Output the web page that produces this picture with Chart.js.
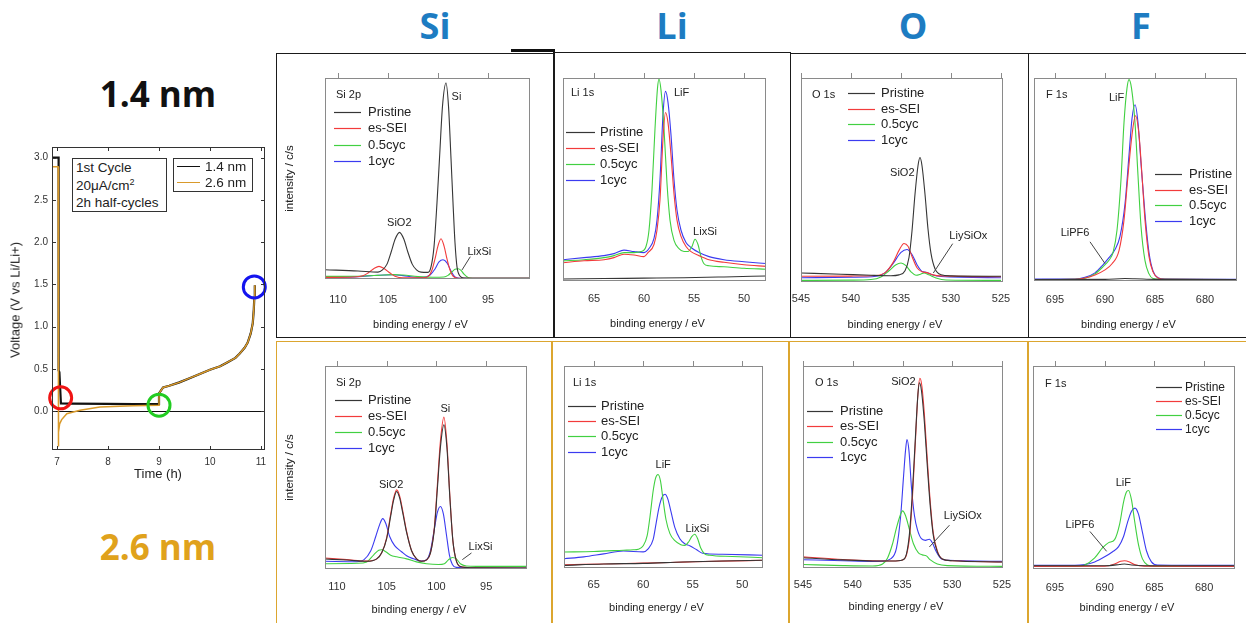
<!DOCTYPE html>
<html>
<head>
<meta charset="utf-8">
<script src="https://cdn.jsdelivr.net/npm/chart.js@4.4.0/dist/chart.umd.min.js"></script>
<style>
    body { margin: 0; width: 1246px; height: 623px; overflow: hidden; position: relative; background: #fff;
           font-family: "Liberation Sans", Arial, sans-serif; color: #222; }
    canvas { position: absolute; left: 0; top: 0; }
    .frame { position: absolute; box-sizing: border-box; }
    .top-frame { border: 1.5px solid #1a1a1a; }
    .bot-frame { border: 1.5px solid #dca62f; }
    .big { position: absolute; font-family: "Open Sans", sans-serif; font-weight: 700; text-align: center; white-space: nowrap; }
    .head { width: 100px; font-size: 36px; line-height: 36px; color: #1d7cc2; top: 8px; }
    .size { left: 58px; width: 200px; font-size: 35px; line-height: 35px; }
    .abs { position: absolute; white-space: nowrap; }
    .vbox { position: absolute; box-sizing: border-box; border: 1px solid #333; background: #fff; }
    .swatch { position: absolute; height: 0; border-top: 1.6px solid; }
</style>
</head>
<body>

<div class="frame top-frame" style="left:276px;top:53px;width:279px;height:285px"></div>
<div class="frame top-frame" style="left:553px;top:52px;width:238px;height:286px"></div>
<div class="frame top-frame" style="left:790px;top:53px;width:239px;height:285px"></div>
<div class="frame top-frame" style="left:1028px;top:53px;width:230px;height:285px"></div>
<div class="abs" style="left:511px;top:49px;width:44px;height:3px;background:#111"></div>
<div class="frame bot-frame" style="left:276px;top:341px;width:276px;height:300px"></div>
<div class="frame bot-frame" style="left:552px;top:341px;width:237px;height:300px"></div>
<div class="frame bot-frame" style="left:789px;top:341px;width:239px;height:300px"></div>
<div class="frame bot-frame" style="left:1028px;top:341px;width:230px;height:300px"></div>

<div class="big head" style="left:385px">Si</div>
<div class="big head" style="left:622px">Li</div>
<div class="big head" style="left:863px">O</div>
<div class="big head" style="left:1091px">F</div>
<div class="big size" style="top:76px;color:#111">1.4 nm</div>
<div class="big size" style="top:529px;color:#e0a21c">2.6 nm</div>

<canvas id="volt" width="1246" height="623"></canvas>
<canvas id="si14" width="1246" height="623"></canvas>
<canvas id="li14" width="1246" height="623"></canvas>
<canvas id="o14" width="1246" height="623"></canvas>
<canvas id="f14" width="1246" height="623"></canvas>
<canvas id="si26" width="1246" height="623"></canvas>
<canvas id="li26" width="1246" height="623"></canvas>
<canvas id="o26" width="1246" height="623"></canvas>
<canvas id="f26" width="1246" height="623"></canvas>

<!-- voltage profile boxes and axis titles -->
<div class="vbox" style="left:72px;top:158px;width:95px;height:54px;font-size:13.5px;line-height:17.5px;padding-left:3px">
    1st Cycle<br>20μA/cm<sup style="font-size:9px;line-height:0">2</sup><br>2h half-cycles
</div>
<div class="vbox" style="left:173px;top:158px;width:80px;height:34px;font-size:13.5px">
    <div class="swatch" style="left:3px;top:7px;width:23px;border-color:#111"></div>
    <div class="abs" style="left:31px;top:0px;line-height:16px">1.4 nm</div>
    <div class="swatch" style="left:3px;top:23px;width:23px;border-color:#d99a2b"></div>
    <div class="abs" style="left:31px;top:15.5px;line-height:16px">2.6 nm</div>
</div>
<div class="abs" style="left:15px;top:300px;font-size:13px;transform:translate(-50%,-50%) rotate(-90deg)">Voltage (V vs Li/Li+)</div>
<div class="abs" style="left:158px;top:473px;font-size:13px;transform:translate(-50%,-50%)">Time (h)</div>

<script>
    const W = 1246, H = 623;
    const AXIS_H = 40;   // room kept under each box for the tick labels

    // --- voltage profile, first cycle ---
    const timeBlack = [6.9, 7.03, 7.03, 7.045, 7.075, 7.3, 8.0, 8.5, 9.0, 9.0, 9.08, 9.2, 9.4, 9.6, 9.8, 10.0, 10.2, 10.32, 10.5, 10.58, 10.68, 10.74, 10.8, 10.84, 10.86, 10.87, 10.88];
    const voltBlack = [3.0, 3.0, 0.48, 0.46, 0.09, 0.088, 0.085, 0.083, 0.082, 0.21, 0.28, 0.30, 0.34, 0.39, 0.44, 0.49, 0.53, 0.57, 0.63, 0.68, 0.75, 0.81, 0.92, 1.04, 1.2, 1.34, 1.49];
    const timeOrange = [6.9, 7.02, 7.02, 7.035, 7.05, 7.09, 7.19, 7.45, 7.84, 8.5, 9.0, 9.0, 9.08, 9.2, 9.4, 9.6, 9.8, 10.0, 10.2, 10.32, 10.5, 10.58, 10.68, 10.74, 10.8, 10.84, 10.86, 10.87, 10.88];
    const voltOrange = [2.89, 2.89, -0.42, -0.25, -0.15, -0.10, -0.03, 0.01, 0.05, 0.063, 0.07, 0.21, 0.28, 0.30, 0.34, 0.39, 0.44, 0.49, 0.53, 0.57, 0.63, 0.68, 0.75, 0.81, 0.92, 1.04, 1.2, 1.34, 1.49];
    const markTime = [7.07, 9.0, 10.87];
    const markVolt = [0.157, 0.07, 1.47];
    const markColors = ['#f01414', '#22cc22', '#1414ee'];
    const timeTicks = [7, 8, 9, 10, 11];
    const voltTicks = [0, 0.5, 1.0, 1.5, 2.0, 2.5, 3.0];

    // --- XPS spectra (intensity in % of plot height) ---
    const SERIES = ['Pristine', 'es-SEI', '0.5cyc', '1cyc'];
    const LINE_COLORS = ['#363636', '#f23b3b', '#41d041', '#3b3bf0'];

    // Si 2p, 1.4 nm
    const si14PristineE = [111.3, 108, 106, 105.55, 105.1, 104.7, 104.27, 103.85, 103.43, 103.0, 102.58, 102.15, 101.7, 101.0, 100.7, 100.4, 100.1, 99.85, 99.55, 99.2, 98.95, 98.7, 98.5, 98.3, 98.1, 97.8, 97.4, 96, 90.8];
    const si14PristineI = [4.6, 4.0, 3.4, 4.5, 7.4, 13.2, 20.0, 23.2, 20.0, 13.2, 7.4, 4.5, 3.4, 3.3, 6, 16, 38, 60, 86, 97.5, 86, 60, 38, 18, 6, 1.5, 0.5, 0.4, 0.3];
    const si14SeiE = [111.3, 108.5, 107.5, 107.0, 106.4, 105.9, 105.4, 104.8, 104.3, 103.5, 101.5, 101.0, 100.6, 100.3, 100.0, 99.7, 99.4, 99.1, 98.8, 98.5, 98.0, 90.8];
    const si14SeiI = [0.8, 1.0, 1.6, 3.0, 5.2, 6.3, 5.2, 3.0, 1.4, 0.6, 0.6, 1.2, 4.5, 10, 16.5, 20, 16.5, 10, 4.5, 1.4, 0.4, 0.3];
    const si14HalfE = [111.3, 108, 106, 104.5, 103.5, 102, 100.5, 99.4, 99.0, 98.6, 98.3, 98.0, 97.7, 97.4, 97.0, 96.5, 90.8];
    const si14HalfI = [1.3, 1.4, 1.8, 2.2, 2.0, 1.2, 0.9, 1.0, 1.8, 3.6, 4.8, 5.1, 4.3, 2.4, 0.8, 0.4, 0.3];
    const si14OneE = [111.3, 108, 106, 104.5, 103.5, 102.5, 101.5, 100.8, 100.3, 99.9, 99.5, 99.1, 98.7, 98.3, 97.8, 90.8];
    const si14OneI = [0.8, 1.2, 1.9, 2.1, 1.7, 1.0, 0.8, 2.0, 5.0, 8.5, 9.6, 8.0, 4.0, 1.0, 0.4, 0.4];

    // Li 1s, 1.4 nm
    const li14PristineE = [68.1, 64, 60, 56, 52, 47.8];
    const li14PristineI = [1.0, 1.2, 1.4, 1.6, 2.0, 2.5];
    const li14SeiE = [68.1, 66, 64, 63, 62, 61, 60, 59.6, 59.0, 58.7, 58.4, 58.1, 57.85, 57.6, 57.3, 57.0, 56.7, 56.3, 55.8, 55.3, 54.5, 53.5, 52, 50, 47.8];
    const li14SeiI = [9.0, 10.0, 10.5, 11.5, 13.2, 12.8, 12.0, 14, 18, 25, 40, 70, 83, 78, 62, 43, 30, 22, 17, 14.5, 12.5, 10.5, 9.2, 8.0, 7.2];
    const li14HalfE = [68.1, 66, 64, 63, 62, 61, 60.3, 59.8, 59.5, 59.2, 58.9, 58.65, 58.5, 58.3, 58.0, 57.7, 57.4, 57.0, 56.5, 56.0, 55.6, 55.2, 54.9, 54.6, 54.3, 54.0, 53.5, 52, 50, 47.8];
    const li14HalfI = [9.9, 10.5, 11.5, 12.5, 14.0, 14.0, 14.5, 17, 25, 45, 75, 95, 99.5, 94, 75, 48, 30, 20, 16, 14.5, 14.5, 17, 20.6, 18, 12, 8.5, 7.5, 7.0, 6.3, 5.8];
    const li14OneE = [68.1, 66, 64, 63, 62, 61, 60, 59.5, 59.0, 58.7, 58.4, 58.1, 57.85, 57.6, 57.3, 57.0, 56.7, 56.3, 55.8, 55.3, 54.5, 53.5, 52, 50, 47.8];
    const li14OneI = [10.5, 11.5, 12.5, 13.5, 15.2, 14.5, 14.0, 16, 21, 30, 50, 82, 93.4, 88, 72, 50, 35, 25, 19, 16.5, 14, 12, 10.5, 9.5, 8.6];

    // O 1s, 1.4 nm
    const o14PristineE = [545, 541, 538, 536, 535.2, 534.6, 534.2, 533.9, 533.6, 533.3, 533.1, 532.9, 532.6, 532.3, 532.0, 531.6, 531.0, 530, 525];
    const o14PristineI = [4.4, 3.8, 3.3, 3.1, 3.5, 5.5, 12, 25, 43, 57, 61, 57, 43, 26, 14, 6.5, 3.6, 3.0, 2.8];
    const o14SeiE = [545, 540, 537.5, 536.5, 535.8, 535.2, 534.7, 534.3, 533.9, 533.4, 532.9, 532.4, 531.8, 531, 525];
    const o14SeiI = [2.8, 2.9, 3.2, 5.0, 9.5, 15.5, 18.9, 17.5, 12.5, 7.0, 5.0, 4.6, 3.5, 3.0, 2.6];
    const o14HalfE = [545, 540, 538, 537, 536.2, 535.5, 535.0, 534.5, 534.0, 533.5, 533.0, 532.7, 532.2, 531.5, 530.5, 525];
    const o14HalfI = [0.8, 0.9, 1.2, 2.5, 5.5, 8.5, 9.3, 8.0, 5.0, 3.3, 3.9, 4.4, 3.5, 2.0, 1.0, 0.8];
    const o14OneE = [545, 540, 537.5, 536.6, 535.8, 535.0, 534.4, 533.9, 533.4, 532.9, 532.5, 531.9, 531, 525];
    const o14OneI = [2.1, 2.3, 2.8, 4.5, 9.0, 14.5, 15.9, 13.5, 8.5, 5.2, 4.8, 3.6, 2.7, 2.1];

    // F 1s, 1.4 nm
    const f14PristineE = [697.1, 690, 688, 687, 685, 676.8];
    const f14PristineI = [0.7, 0.8, 1.2, 1.1, 0.8, 0.7];
    const f14SeiE = [697.1, 693, 692, 691, 690, 689.3, 688.6, 688.1, 687.7, 687.3, 686.95, 686.6, 686.3, 686.0, 685.6, 685.2, 684.7, 684, 676.8];
    const f14SeiI = [0.7, 0.8, 1.5, 3.0, 5.5, 8.5, 15, 30, 52, 72, 81.4, 72, 52, 30, 12, 4.5, 1.5, 0.8, 0.7];
    const f14HalfE = [697.1, 693, 692, 691, 690.2, 689.6, 689.2, 688.8, 688.4, 688.1, 687.8, 687.6, 687.35, 687.0, 686.7, 686.4, 686.0, 685.6, 685.2, 684.5, 676.8];
    const f14HalfI = [0.7, 0.8, 1.4, 3.5, 7.0, 10.2, 14, 25, 50, 78, 95, 99.2, 95, 78, 52, 27, 10, 3.5, 1.2, 0.8, 0.7];
    const f14OneE = [697.1, 693, 692, 691, 690.2, 689.6, 689.0, 688.5, 688.0, 687.6, 687.3, 687.0, 686.7, 686.4, 686.0, 685.6, 685.2, 684.7, 684, 676.8];
    const f14OneI = [0.9, 1.0, 1.8, 4.0, 8.0, 11.5, 15.5, 22, 38, 62, 80, 86.8, 78, 58, 33, 14, 5, 1.6, 0.9, 0.8];

    // Si 2p, 2.6 nm
    const si26PristineE = [111.2, 109, 107, 106, 105.5, 105.0, 104.6, 104.3, 104.0, 103.7, 103.4, 103.0, 102.5, 102.0, 101.5, 101.0, 100.6, 100.2, 99.9, 99.6, 99.25, 98.95, 98.65, 98.35, 98.0, 97.6, 96.5, 90.9];
    const si26PristineI = [4.9, 4.4, 3.8, 5.0, 8, 15, 26, 34, 38.2, 35, 28, 18, 9, 5, 3.8, 4.5, 8, 20, 40, 60, 71, 60, 35, 14, 4, 1.2, 0.6, 0.5];
    const si26SeiE = si26PristineE;
    const si26SeiI = [5.4, 4.6, 3.9, 5.0, 8, 15.5, 27, 35, 39, 36, 29, 18.5, 9, 5, 3.8, 4.5, 8, 21, 42, 63, 74.8, 62, 36, 14, 4, 1.2, 0.6, 0.5];
    const si26HalfE = [111.2, 108, 107, 106.3, 105.8, 105.5, 105.1, 104.6, 104, 103, 102, 101, 99.8, 99.2, 98.8, 98.4, 98.0, 97.6, 97.0, 96, 90.9];
    const si26HalfI = [2.6, 2.8, 3.5, 7, 9.2, 9.5, 8.5, 6.8, 6.0, 5.0, 3.5, 2.6, 2.2, 2.6, 4.5, 5.7, 5.0, 2.6, 1.5, 1.3, 1.3];
    const si26OneE = [111.2, 108, 107.3, 106.6, 106.1, 105.7, 105.4, 105.1, 104.7, 104.2, 103.5, 103, 102.3, 101.6, 101.0, 100.6, 100.2, 99.9, 99.6, 99.3, 99.0, 98.7, 98.4, 98.0, 90.9];
    const si26OneI = [3.8, 3.6, 4.5, 9, 16, 22, 24.8, 22.5, 16, 11.5, 8.5, 6.5, 5, 3.9, 4.5, 9, 20, 28, 30.8, 27, 17, 7, 2.2, 0.8, 0.5];

    // Li 1s, 2.6 nm
    const li26PristineE = [68, 64, 60, 56, 52, 47.9];
    const li26PristineI = [1.3, 2.0, 2.3, 3.0, 3.5, 3.8];
    const li26SeiE = [68, 64, 60, 56, 52, 47.9];
    const li26SeiI = [1.6, 2.0, 2.4, 2.9, 3.4, 3.8];
    const li26HalfE = [68, 65, 62, 61, 60.5, 60.0, 59.6, 59.3, 59.0, 58.75, 58.5, 58.25, 58.0, 57.7, 57.3, 56.8, 56.2, 55.8, 55.4, 55.1, 54.8, 54.5, 54.2, 53.8, 53.3, 51, 47.9];
    const li26HalfI = [7.9, 8.2, 8.8, 9.0, 9.3, 11, 16, 26, 38, 44.5, 46.3, 43, 34, 24, 17, 13.5, 11.5, 11.2, 13, 15.5, 16.7, 14.5, 10, 7, 6.3, 5.7, 5.1];
    const li26OneE = [68, 66, 64, 62, 60, 59.5, 59.0, 58.7, 58.4, 58.1, 57.8, 57.5, 57.2, 56.8, 56.3, 55.8, 55.3, 54.6, 54, 52, 47.9];
    const li26OneI = [4.6, 5.5, 7, 8.4, 8.0, 9.5, 14, 22, 30, 35, 36.5, 34, 28, 20, 14.5, 12, 11, 9, 7.3, 6.8, 6.3];

    // O 1s, 2.6 nm
    const o26PristineE = [545, 541, 538, 536, 535, 534.6, 534.3, 534.0, 533.7, 533.45, 533.3, 533.1, 532.8, 532.5, 532.2, 531.9, 531.5, 531, 530, 525];
    const o26PristineI = [5.1, 4.0, 3.5, 3.5, 4.0, 7, 17, 38, 65, 86, 91.7, 88, 72, 50, 30, 16, 8, 4.5, 3.6, 3.0];
    const o26SeiE = [545, 541, 538, 536, 535, 534.6, 534.3, 534.0, 533.7, 533.45, 533.25, 533.05, 532.8, 532.5, 532.2, 531.9, 531.5, 531, 530, 525];
    const o26SeiI = [5.5, 4.2, 3.6, 3.5, 4.0, 6.5, 15, 35, 63, 86, 93.9, 90, 76, 53, 32, 17, 8.5, 4.5, 3.6, 3.0];
    const o26HalfE = [545, 541, 538, 537, 536.5, 536.0, 535.6, 535.2, 535.0, 534.7, 534.3, 533.9, 533.4, 533.0, 532.6, 532.2, 531.5, 530.5, 525];
    const o26HalfI = [1.7, 1.2, 1.0, 2.0, 5, 12, 20, 26.5, 28.3, 26, 19, 12, 7.5, 6.5, 6.0, 4.0, 2.0, 1.2, 0.8];
    const o26OneE = [545, 541, 538, 537, 536.2, 535.6, 535.2, 534.9, 534.7, 534.55, 534.35, 534.1, 533.8, 533.5, 533.1, 532.7, 532.3, 532.0, 531.6, 531.1, 530.5, 525];
    const o26OneI = [4.1, 3.6, 3.3, 3.4, 4.5, 10, 25, 45, 58, 63.6, 58, 40, 26, 19, 14.5, 13.7, 14.2, 12.5, 8, 4.5, 3.8, 3.3];

    // F 1s, 2.6 nm
    const f26PristineE = [697.2, 690, 688.5, 688, 687.3, 686, 676.9];
    const f26PristineI = [1.6, 1.6, 2.2, 2.5, 2.0, 1.6, 1.6];
    const f26SeiE = [697.2, 690, 689, 688.4, 688, 687.5, 687, 686, 676.9];
    const f26SeiI = [1.3, 1.4, 2.5, 3.8, 4.1, 3.5, 2.2, 1.4, 1.3];
    const f26HalfE = [697.2, 693, 692, 691, 690.2, 689.6, 689.0, 688.5, 688.1, 687.8, 687.6, 687.3, 687.0, 686.6, 686.2, 685.7, 685, 676.9];
    const f26HalfI = [1.3, 1.3, 2.0, 5.5, 10.5, 13, 14.5, 22, 33, 38, 38.7, 34, 24, 12, 5, 2, 1.3, 1.3];
    const f26OneE = [697.2, 693, 692, 691, 690, 689.2, 688.6, 688.1, 687.7, 687.3, 686.95, 686.6, 686.2, 685.8, 685.3, 684.7, 676.9];
    const f26OneI = [1.8, 1.8, 2.2, 3.5, 6.0, 8.5, 11, 16, 23, 28.5, 30, 27, 18, 9, 3.5, 2.0, 1.8];

    const siTicks = [110, 105, 100, 95];
    const liTicks = [65, 60, 55, 50];
    const oTicks = [545, 540, 535, 530, 525];
    const fTicks = [695, 690, 685, 680];

    Chart.defaults.font.family = '"Liberation Sans", Arial, sans-serif';
    const FONT = s => s + 'px "Liberation Sans", Arial, sans-serif';

    // frame, tick marks, inset legend, peak labels, leader lines, axis titles
    const panelDeco = {
        id: 'panelDeco',
        afterDraw(chart, args, o) {
            const { ctx, chartArea: a } = chart;
            const sx = chart.scales.x, sy = chart.scales.y;
            ctx.save();
            ctx.lineWidth = 1;
            ctx.strokeStyle = o.frame;
            ctx.strokeRect(Math.round(a.left) + 0.5, Math.round(a.top) + 0.5, Math.round(a.width) - 1, Math.round(a.height) - 1);

            ctx.beginPath();
            if (o.topTicks) {
                sx.ticks.forEach(t => {
                    const px = Math.round(sx.getPixelForValue(t.value)) + 0.5;
                    ctx.moveTo(px, a.top); ctx.lineTo(px, a.top - o.topTicks);
                });
            }
            if (o.innerTicks) {
                const n = o.innerTicks;
                sx.ticks.forEach(t => {
                    const px = Math.round(sx.getPixelForValue(t.value)) + 0.5;
                    ctx.moveTo(px, a.bottom); ctx.lineTo(px, a.bottom - n);
                    ctx.moveTo(px, a.top); ctx.lineTo(px, a.top + n);
                });
                sy.ticks.forEach(t => {
                    const py = Math.round(sy.getPixelForValue(t.value)) + 0.5;
                    ctx.moveTo(a.left, py); ctx.lineTo(a.left + n, py);
                    ctx.moveTo(a.right, py); ctx.lineTo(a.right - n, py);
                });
            }
            ctx.stroke();

            ctx.textBaseline = 'middle';
            ctx.fillStyle = '#222';
            if (o.title) {
                ctx.font = FONT(11); ctx.textAlign = 'left';
                ctx.fillText(o.title.text, o.title.x, o.title.y);
            }
            if (o.legend) {
                const L = o.legend;
                ctx.font = FONT(L.size); ctx.textAlign = 'left';
                chart.data.datasets.forEach((ds, k) => {
                    const y = Math.round(L.y0 + k * L.dy) + 0.5;
                    ctx.strokeStyle = ds.borderColor; ctx.lineWidth = 1.2;
                    ctx.beginPath(); ctx.moveTo(L.x1, y); ctx.lineTo(L.x2, y); ctx.stroke();
                    ctx.fillText(ds.label, L.tx, y);
                });
            }
            (o.notes || []).forEach(nt => {
                ctx.font = FONT(11); ctx.textAlign = 'center';
                ctx.fillText(nt.text, sx.getPixelForValue(nt.e), sy.getPixelForValue(nt.i));
            });
            ctx.strokeStyle = '#444'; ctx.lineWidth = 1;
            (o.leaders || []).forEach(l => {
                ctx.beginPath();
                ctx.moveTo(sx.getPixelForValue(l[0]), sy.getPixelForValue(l[1]));
                ctx.lineTo(sx.getPixelForValue(l[2]), sy.getPixelForValue(l[3]));
                ctx.stroke();
            });
            if (o.xTitle) {
                ctx.font = FONT(11); ctx.textAlign = 'center';
                ctx.fillText(o.xTitle.text, (a.left + a.right) / 2 - 7, o.xTitle.y);
            }
            if (o.yTitle) {
                ctx.translate(o.yTitle.x, (a.top + a.bottom) / 2);
                ctx.rotate(-Math.PI / 2);
                ctx.font = FONT(11.5); ctx.textAlign = 'center';
                ctx.fillText(o.yTitle.text, 0, 0);
            }
            ctx.restore();
        }
    };

    function xpsChart(id, p) {
        const datasets = p.curves.map((c, k) => ({
            label: SERIES[k],
            data: c[0].map((e, j) => ({ x: e, y: c[1][j] })),
            borderColor: LINE_COLORS[k],
            borderWidth: 1.1,
            pointRadius: 0,
            cubicInterpolationMode: 'monotone',
            fill: false
        }));
        const box = p.box;
        new Chart(document.getElementById(id), {
            type: 'line',
            data: { datasets },
            options: {
                responsive: false,
                animation: false,
                devicePixelRatio: 1,
                layout: { padding: { left: box[0], top: box[1], right: W - box[2], bottom: H - box[3] - AXIS_H } },
                scales: {
                    x: {
                        type: 'linear', reverse: true, min: p.range[1], max: p.range[0],
                        grid: { display: false, drawTicks: false }, border: { display: false },
                        ticks: { font: { size: 11 }, color: '#333', padding: p.tickPad, maxRotation: 0, autoSkip: false },
                        afterBuildTicks: s => { s.ticks = p.ticks.map(v => ({ value: v })); },
                        afterFit: s => { s.height = AXIS_H; }
                    },
                    y: { display: false, min: 0, max: 100 }
                },
                plugins: {
                    legend: { display: false },
                    tooltip: { enabled: false },
                    panelDeco: {
                        frame: '#8a8a8a', topTicks: 5,
                        title: p.title, legend: p.legend, notes: p.notes, leaders: p.leaders,
                        xTitle: { text: 'binding energy / eV', y: p.xTitleY },
                        yTitle: p.yTitle ? { text: 'intensity / c/s', x: 290 } : null
                    }
                }
            },
            plugins: [panelDeco]
        });
    }

    // --- voltage chart ---
    new Chart(document.getElementById('volt'), {
        type: 'line',
        data: {
            datasets: [
                {
                    label: 'marks',
                    data: markTime.map((t, i) => ({ x: t, y: markVolt[i] })),
                    showLine: false, clip: false,
                    pointRadius: 11, pointBorderWidth: 3,
                    pointBackgroundColor: 'rgba(0,0,0,0)', pointBorderColor: markColors
                },
                {
                    label: '2.6 nm',
                    data: timeOrange.map((t, i) => ({ x: t, y: voltOrange[i] })),
                    borderColor: '#d99a2b', borderWidth: 1.5, pointRadius: 0, tension: 0
                },
                {
                    label: '1.4 nm',
                    data: timeBlack.map((t, i) => ({ x: t, y: voltBlack[i] })),
                    borderColor: '#111', borderWidth: 2.2, pointRadius: 0, tension: 0
                }
            ]
        },
        options: {
            responsive: false,
            animation: false,
            devicePixelRatio: 1,
            layout: { padding: { left: 52 - 32, top: 147, right: W - 265, bottom: H - 450 - 24 } },
            scales: {
                x: {
                    type: 'linear', min: 6.9, max: 11.08,
                    grid: { display: false, drawTicks: false }, border: { display: false },
                    ticks: { font: { size: 10 }, color: '#333', padding: 6, maxRotation: 0, autoSkip: false },
                    afterBuildTicks: s => { s.ticks = timeTicks.map(v => ({ value: v })); },
                    afterFit: s => { s.height = 24; }
                },
                y: {
                    min: -0.46, max: 3.125,
                    grid: { drawTicks: false, lineWidth: 1, color: c => (c.tick && c.tick.value === 0 ? '#111' : 'rgba(0,0,0,0)') },
                    border: { display: false },
                    ticks: { font: { size: 10 }, color: '#333', padding: 4, callback: v => v.toFixed(1) },
                    afterBuildTicks: s => { s.ticks = voltTicks.map(v => ({ value: v })); },
                    afterFit: s => { s.width = 32; }
                }
            },
            plugins: {
                legend: { display: false },
                tooltip: { enabled: false },
                panelDeco: { frame: '#333', innerTicks: 4 }
            }
        },
        plugins: [panelDeco]
    });

    // --- 1.4 nm row ---
    xpsChart('si14', {
        box: [325, 78, 530, 279], range: [111.3, 90.8], ticks: siTicks, tickPad: 14, xTitleY: 325, yTitle: true,
        curves: [[si14PristineE, si14PristineI], [si14SeiE, si14SeiI], [si14HalfE, si14HalfI], [si14OneE, si14OneI]],
        title: { text: 'Si 2p', x: 336, y: 95 },
        legend: { x1: 334, x2: 361, tx: 368, y0: 112.3, dy: 16.1, size: 13 },
        notes: [{ text: 'SiO2', e: 103.87, i: 27.9 }, { text: 'Si', e: 98.15, i: 90.7 }, { text: 'LixSi', e: 95.87, i: 13.6 }],
        leaders: [[96.77, 11.1, 97.6, 4.5]]
    });
    xpsChart('li14', {
        box: [563, 78, 766, 281], range: [68.1, 47.8], ticks: liTicks, tickPad: 11, xTitleY: 323.5,
        curves: [[li14PristineE, li14PristineI], [li14SeiE, li14SeiI], [li14HalfE, li14HalfI], [li14OneE, li14OneI]],
        title: { text: 'Li 1s', x: 571, y: 93.3 },
        legend: { x1: 566, x2: 595, tx: 600, y0: 131.7, dy: 16.1, size: 13 },
        notes: [{ text: 'LiF', e: 56.24, i: 92.6 }, { text: 'LixSi', e: 53.9, i: 24.2 }]
    });
    xpsChart('o14', {
        box: [801, 78, 1003, 282], range: [545, 524.8], ticks: oTicks, tickPad: 10, xTitleY: 325,
        curves: [[o14PristineE, o14PristineI], [o14SeiE, o14SeiI], [o14HalfE, o14HalfI], [o14OneE, o14OneI]],
        title: { text: 'O 1s', x: 812, y: 95 },
        legend: { x1: 848, x2: 875, tx: 881, y0: 92.7, dy: 15.8, size: 13 },
        notes: [{ text: 'SiO2', e: 534.87, i: 53.5 }, { text: 'LiySiOx', e: 528.27, i: 22.4 }],
        leaders: [[529.83, 18.8, 531.77, 4.4]]
    });
    xpsChart('f14', {
        box: [1034, 78, 1237, 281], range: [697.1, 676.8], ticks: fTicks, tickPad: 12, xTitleY: 325,
        curves: [[f14PristineE, f14PristineI], [f14SeiE, f14SeiI], [f14HalfE, f14HalfI], [f14OneE, f14OneI]],
        title: { text: 'F 1s', x: 1046, y: 95 },
        legend: { x1: 1155, x2: 1182, tx: 1189, y0: 174, dy: 15.6, size: 13 },
        notes: [{ text: 'LiF', e: 688.84, i: 90.1 }, { text: 'LiPF6', e: 693.0, i: 23.7 }],
        leaders: [[691.5, 19.3, 690.0, 8.6]]
    });

    // --- 2.6 nm row ---
    xpsChart('si26', {
        box: [325, 366, 527, 569], range: [111.2, 90.9], ticks: siTicks, tickPad: 11, xTitleY: 610, yTitle: true,
        curves: [[si26PristineE, si26PristineI], [si26SeiE, si26SeiI], [si26HalfE, si26HalfI], [si26OneE, si26OneI]],
        title: { text: 'Si 2p', x: 336, y: 383.3 },
        legend: { x1: 335, x2: 362, tx: 368, y0: 400, dy: 15.9, size: 13 },
        notes: [{ text: 'SiO2', e: 104.55, i: 41.5 }, { text: 'Si', e: 99.1, i: 78.7 }, { text: 'LixSi', e: 95.57, i: 10.8 }],
        leaders: [[96.48, 7.9, 97.4, 4.6]]
    });
    xpsChart('li26', {
        box: [564, 366, 763, 568], range: [68.0, 47.9], ticks: liTicks, tickPad: 10, xTitleY: 608.3,
        curves: [[li26PristineE, li26PristineI], [li26SeiE, li26SeiI], [li26HalfE, li26HalfI], [li26OneE, li26OneI]],
        title: { text: 'Li 1s', x: 573, y: 383.3 },
        legend: { x1: 568, x2: 596, tx: 601, y0: 406, dy: 15.2, size: 13 },
        notes: [{ text: 'LiF', e: 57.98, i: 50.9 }, { text: 'LixSi', e: 54.53, i: 19.5 }]
    });
    xpsChart('o26', {
        box: [803, 366, 1003, 568], range: [545, 524.9], ticks: oTicks, tickPad: 10, xTitleY: 606.7,
        curves: [[o26PristineE, o26PristineI], [o26SeiE, o26SeiI], [o26HalfE, o26HalfI], [o26OneE, o26OneI]],
        title: { text: 'O 1s', x: 815, y: 383.3 },
        legend: { x1: 807, x2: 833, tx: 840, y0: 411, dy: 15.4, size: 13 },
        notes: [{ text: 'SiO2', e: 534.9, i: 92.2 }, { text: 'LiySiOx', e: 528.94, i: 25.7 }],
        leaders: [[530.28, 21.2, 532.3, 10.4]]
    });
    xpsChart('f26', {
        box: [1033, 366, 1235, 569], range: [697.2, 676.9], ticks: fTicks, tickPad: 12, xTitleY: 608.3,
        curves: [[f26PristineE, f26PristineI], [f26SeiE, f26SeiI], [f26HalfE, f26HalfI], [f26OneE, f26OneI]],
        title: { text: 'F 1s', x: 1045, y: 384.3 },
        legend: { x1: 1156, x2: 1182, tx: 1185, y0: 386.7, dy: 14.2, size: 12 },
        notes: [{ text: 'LiF', e: 688.12, i: 42.6 }, { text: 'LiPF6', e: 692.48, i: 21.8 }],
        leaders: [[691.48, 18.5, 689.8, 8.7]]
    });
</script>
</body>
</html>
